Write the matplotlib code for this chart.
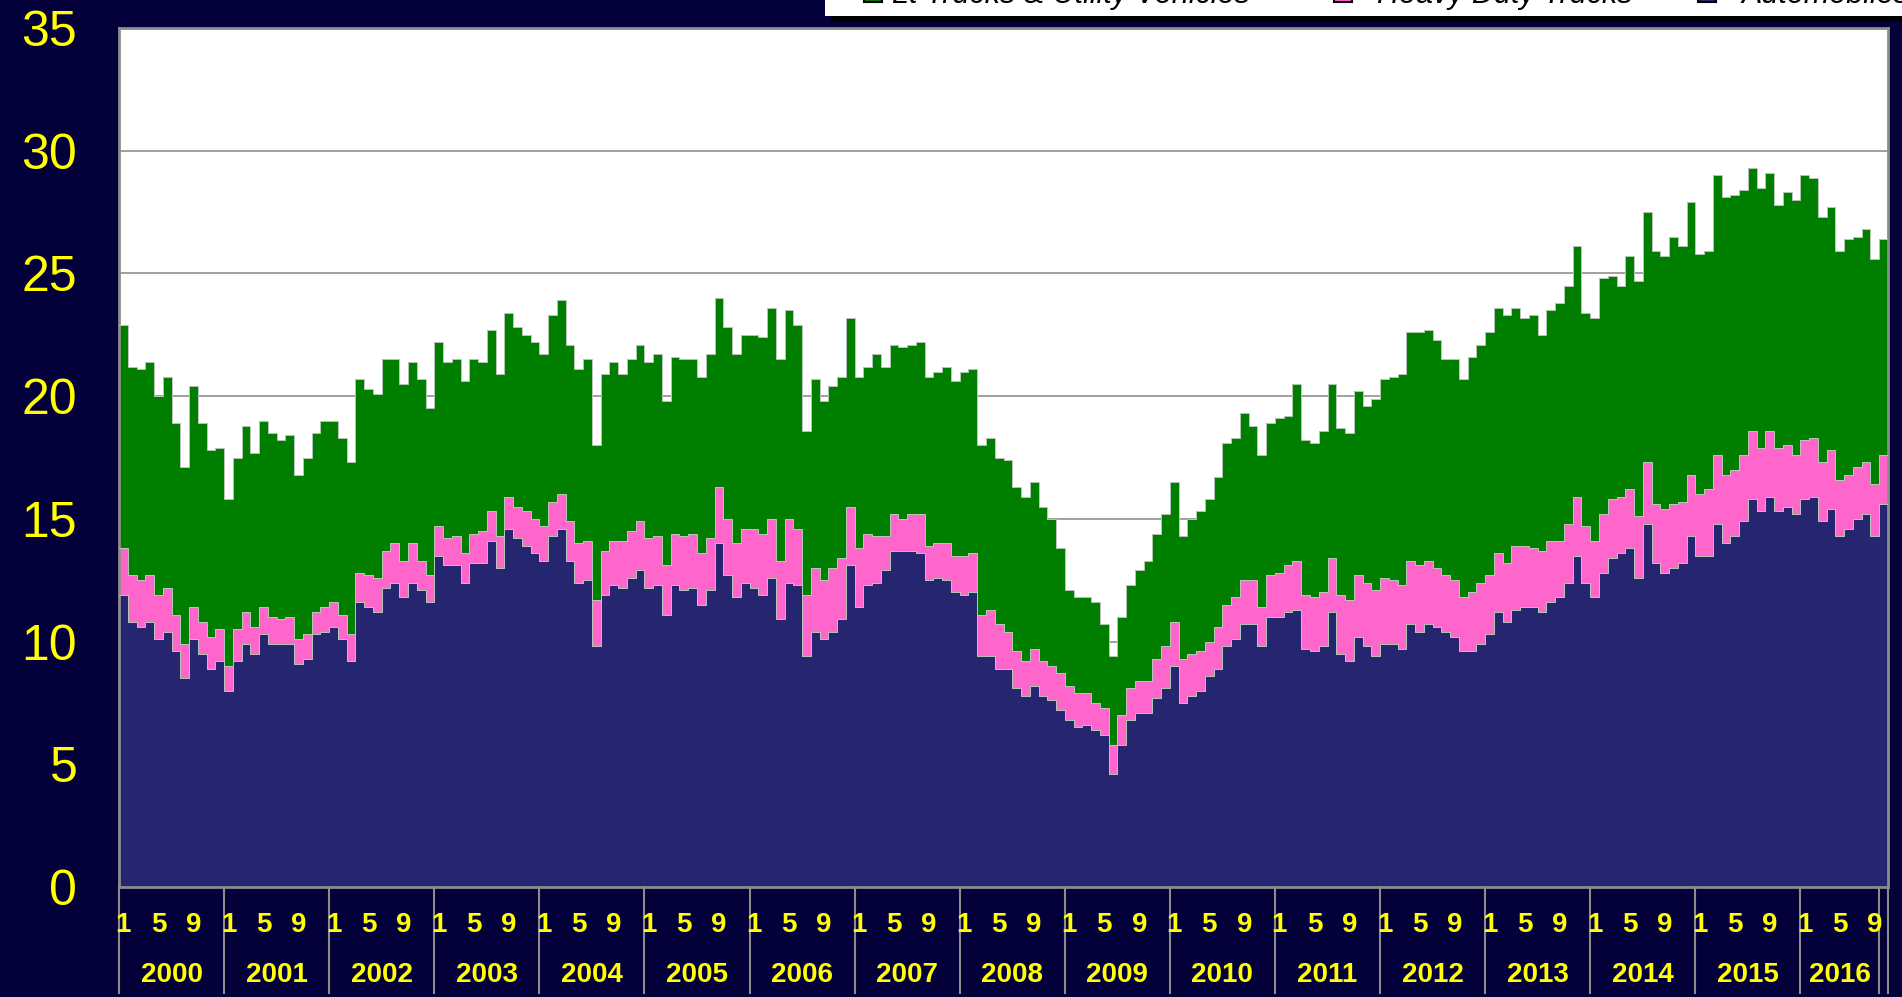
import numpy as np
import matplotlib

matplotlib.use("Agg")

import matplotlib.pyplot as plt
from matplotlib.patches import Rectangle

# monthly readings, Jan 2000 - Oct 2016 (stack levels as they appear on the chart)
years = list(range(2000, 2017))
months_in_year = [12] * 16 + [9]  # 2016 labelled through Sep
month_labels = ["1", "5", "9"]

total_top = [
    22.9, 21.2, 21.1, 21.4, 20.0, 20.8, 18.9, 17.1, 20.4, 18.9, 17.8, 17.9,
    15.8, 17.5, 18.8, 17.7, 19.0, 18.5, 18.2, 18.4, 16.8, 17.5, 18.5, 19.0,
    19.0, 18.3, 17.3, 20.7, 20.3, 20.1, 21.5, 21.5, 20.5, 21.4, 20.7, 19.5,
    22.2, 21.4, 21.5, 20.6, 21.5, 21.4, 22.7, 20.9, 23.4, 22.8, 22.5, 22.2,
    21.7, 23.3, 23.9, 22.1, 21.1, 21.5, 18.0, 20.9, 21.4, 20.9, 21.5, 22.1,
    21.4, 21.7, 19.8, 21.6, 21.5, 21.5, 20.8, 21.7, 24.0, 22.8, 21.7, 22.5,
    22.5, 22.4, 23.6, 21.5, 23.5, 22.9, 18.6, 20.7, 19.8, 20.4, 20.8, 23.2,
    20.8, 21.2, 21.7, 21.2, 22.1, 22.0, 22.1, 22.2, 20.8, 21.0, 21.2, 20.6,
    21.0, 21.1, 18.0, 18.3, 17.5, 17.4, 16.3, 15.9, 16.5, 15.5, 15.0, 13.8,
    12.1, 11.8, 11.8, 11.6, 10.7, 9.4, 11.0, 12.3, 12.9, 13.3, 14.4, 15.2,
    16.5, 14.3, 15.0, 15.3, 15.8, 16.7, 18.1, 18.3, 19.3, 18.8, 17.6, 18.9,
    19.1, 19.2, 20.5, 18.2, 18.1, 18.6, 20.5, 18.7, 18.5, 20.2, 19.6, 19.9,
    20.7, 20.8, 20.9, 22.6, 22.6, 22.7, 22.3, 21.5, 21.5, 20.7, 21.6, 22.1,
    22.6, 23.6, 23.3, 23.6, 23.2, 23.3, 22.5, 23.5, 23.8, 24.5, 26.1, 23.4,
    23.2, 24.8, 24.9, 24.5, 25.7, 24.7, 27.5, 25.9, 25.7, 26.5, 26.1, 27.9,
    25.8, 25.9, 29.0, 28.1, 28.2, 28.4, 29.3, 28.5, 29.1, 27.8, 28.3, 28.0,
    29.0, 28.9, 27.3, 27.7, 25.9, 26.4, 26.5, 26.8, 25.6, 26.4,
]

autos_plus_heavy = [
    13.8, 12.7, 12.5, 12.7, 11.9, 12.2, 11.1, 9.9, 11.4, 10.8, 10.2, 10.5,
    9.0, 10.5, 11.2, 10.6, 11.4, 11.0, 10.9, 11.0, 10.1, 10.3, 11.2, 11.4,
    11.6, 11.1, 10.3, 12.8, 12.7, 12.6, 13.7, 14.0, 13.3, 14.0, 13.3, 12.7,
    14.7, 14.2, 14.3, 13.6, 14.4, 14.5, 15.3, 14.3, 15.9, 15.5, 15.3, 15.0,
    14.7, 15.7, 16.0, 14.9, 14.0, 14.1, 11.7, 13.7, 14.1, 14.1, 14.5, 14.9,
    14.2, 14.3, 13.1, 14.4, 14.3, 14.4, 13.6, 14.2, 16.3, 15.0, 14.0, 14.6,
    14.6, 14.4, 15.0, 13.3, 15.0, 14.6, 11.9, 13.0, 12.5, 13.0, 13.4, 15.5,
    13.8, 14.4, 14.3, 14.3, 15.2, 15.0, 15.2, 15.2, 13.9, 14.0, 14.0, 13.5,
    13.5, 13.6, 11.1, 11.3, 10.7, 10.4, 9.6, 9.2, 9.7, 9.2, 9.0, 8.7,
    8.2, 7.9, 7.9, 7.5, 7.3, 5.8, 7.0, 8.1, 8.4, 8.4, 9.3, 9.8,
    10.8, 9.3, 9.5, 9.6, 10.0, 10.6, 11.5, 11.8, 12.5, 12.5, 11.4, 12.7,
    12.8, 13.1, 13.3, 11.9, 11.8, 12.0, 13.4, 11.9, 11.7, 12.7, 12.4, 12.1,
    12.6, 12.5, 12.3, 13.3, 13.1, 13.3, 13.0, 12.7, 12.5, 11.8, 12.0, 12.4,
    12.7, 13.6, 13.2, 13.9, 13.9, 13.8, 13.7, 14.1, 14.1, 14.8, 15.9, 14.7,
    14.1, 15.2, 15.8, 15.9, 16.2, 15.1, 17.3, 15.6, 15.4, 15.6, 15.7, 16.8,
    16.0, 16.2, 17.6, 16.8, 17.0, 17.6, 18.6, 17.9, 18.6, 17.9, 18.0, 17.6,
    18.2, 18.3, 17.3, 17.8, 16.6, 16.8, 17.1, 17.3, 16.4, 17.6,
]

autos = [
    11.9, 10.8, 10.6, 10.8, 10.1, 10.4, 9.6, 8.5, 10.1, 9.5, 8.9, 9.2,
    8.0, 9.2, 9.9, 9.5, 10.3, 9.9, 9.9, 9.9, 9.1, 9.3, 10.3, 10.4,
    10.6, 10.1, 9.2, 11.6, 11.4, 11.2, 12.2, 12.4, 11.8, 12.4, 12.1, 11.6,
    13.5, 13.1, 13.1, 12.4, 13.2, 13.2, 14.1, 13.0, 14.6, 14.2, 13.9, 13.6,
    13.3, 14.3, 14.6, 13.3, 12.4, 12.5, 9.8, 11.9, 12.3, 12.2, 12.6, 12.9,
    12.2, 12.3, 11.1, 12.3, 12.1, 12.2, 11.5, 12.1, 14.0, 12.7, 11.8, 12.4,
    12.2, 11.9, 12.6, 10.9, 12.4, 12.3, 9.4, 10.4, 10.1, 10.4, 10.9, 13.1,
    11.4, 12.3, 12.4, 12.9, 13.7, 13.7, 13.7, 13.6, 12.5, 12.6, 12.5, 12.0,
    11.9, 12.0, 9.4, 9.4, 8.9, 8.9, 8.1, 7.8, 8.2, 7.8, 7.6, 7.2,
    6.8, 6.5, 6.6, 6.4, 6.2, 4.6, 5.8, 6.8, 7.1, 7.1, 7.7, 8.1,
    9.0, 7.5, 7.8, 8.0, 8.6, 8.9, 9.8, 10.1, 10.7, 10.7, 9.8, 11.0,
    11.0, 11.2, 11.3, 9.7, 9.6, 9.8, 11.2, 9.5, 9.2, 10.2, 9.8, 9.4,
    9.9, 9.9, 9.7, 10.7, 10.4, 10.7, 10.6, 10.4, 10.2, 9.6, 9.6, 9.9,
    10.3, 11.2, 10.8, 11.3, 11.4, 11.4, 11.2, 11.6, 11.8, 12.4, 13.5, 12.4,
    11.8, 12.8, 13.4, 13.6, 13.8, 12.6, 14.8, 13.2, 12.8, 13.0, 13.2, 14.3,
    13.5, 13.5, 14.8, 14.0, 14.3, 14.9, 15.8, 15.3, 15.9, 15.3, 15.5, 15.2,
    15.8, 15.9, 14.9, 15.4, 14.3, 14.6, 15.0, 15.2, 14.3, 15.6,
]

series_names = ["Lt Trucks & Utility Vehicles", "Heavy Duty Trucks", "Automobiles"]

BG = "#03003a"
GREEN = "#007e00"
PINK = "#ff66cc"
NAVY = "#262670"
YELLOW = "#ffff00"
GRAY = "#8c8c8c"

plt.rcParams["font.family"] = ["Liberation Sans", "DejaVu Sans"]

fig = plt.figure(figsize=(19.02, 9.97), dpi=100, facecolor=BG)
ax = fig.add_axes([119 / 1902, 1 - 887 / 997, (1888 - 119) / 1902, (887 - 28) / 997])
ax.set_facecolor("white")

n = len(autos)
edges = np.arange(n + 1)
for vals, color in [(total_top, GREEN), (autos_plus_heavy, PINK), (autos, NAVY)]:
    ext = np.append(vals, vals[-1])
    ax.fill_between(edges, 0, ext, step="post", color=color, linewidth=0, zorder=2)
    ax.step(edges, ext, where="post", color="#b8c8b8", linewidth=0.7, zorder=3)

ax.set_xlim(0, n)
ax.set_ylim(0, 35)
ax.set_yticks(range(0, 36, 5))
ax.set_yticklabels([str(v) for v in range(0, 36, 5)], color=YELLOW, fontsize=36)
ax.tick_params(axis="y", length=0, pad=30)
ax.set_xticks([])
ax.grid(axis="y", color="#a0a0a0", linewidth=1.4, zorder=0)
ax.set_axisbelow(True)
for side in ["left", "top", "right", "bottom"]:
    ax.spines[side].set_color(GRAY)
    ax.spines[side].set_linewidth(2)

# two-level category axis
xt = ax.get_xaxis_transform()
start = 0
for year, count in zip(years, months_in_year):
    for lab in month_labels:
        m = int(lab) - 1
        if m < count:
            ax.text(start + m + 0.5, -0.0442, lab, transform=xt, ha="center", va="center",
                    color=YELLOW, fontsize=20, fontweight="bold")
    ax.text(start + count / 2, -0.1024, str(year), transform=xt, ha="center", va="center",
            color=YELLOW, fontsize=20, fontweight="bold")
    ax.plot([start, start], [0, -0.1234], transform=xt, color=GRAY, linewidth=1.5, clip_on=False)
    start += count
for xline in [start, n]:
    ax.plot([xline, xline], [0, -0.1234], transform=xt, color=GRAY, linewidth=1.5, clip_on=False)

# legend box, cut off by the top edge as in the original slide
W, H = 1902, 997
fig.patches.append(Rectangle((831 / W, 1 - 21 / H), 1, 21 / H, transform=fig.transFigure,
                             facecolor="black", edgecolor="none", zorder=1))
fig.patches.append(Rectangle((825 / W, 1 - 16 / H), 1, 16 / H, transform=fig.transFigure,
                             facecolor="white", edgecolor="none", zorder=2))
swatch_x = [864, 1334, 1698]
text_x = [892, 1377, 1741]
for sx, tx, name, color in zip(swatch_x, text_x, series_names, [GREEN, PINK, NAVY]):
    fig.patches.append(Rectangle((sx / W, 1 - 2 / H), 18 / W, 30 / H, transform=fig.transFigure,
                                 facecolor=color, edgecolor="black", linewidth=1.5, zorder=3))
    fig.text(tx / W, 1 - 3 / H, name, ha="left", va="baseline", fontsize=22,
             style="italic", color="black", zorder=4)

fig.savefig("out.png", dpi=100, facecolor=BG)
